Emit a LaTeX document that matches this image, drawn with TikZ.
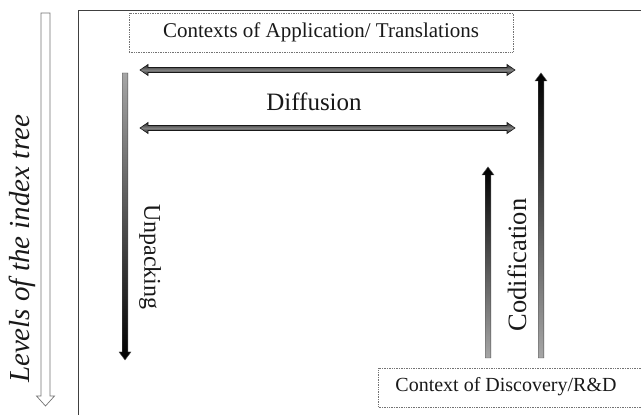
\documentclass[tikz,border=0pt]{standalone}
\usepackage{fontspec}
\setmainfont{Liberation Serif}
\usetikzlibrary{calc}
\begin{document}
\begin{tikzpicture}[x=1pt,y=1pt,
  dbox/.style={draw=black!55, densely dotted, line width=0.7pt},
  darr/.style={top color=black!85, bottom color=black!85, middle color=black!50, draw=black!90, line width=0.6pt},
  downarr/.style={top color=black!35, bottom color=black, draw=black!70, line width=0.4pt},
  uparr/.style={top color=black, bottom color=black!35, draw=black!70, line width=0.4pt},
  hollow/.style={draw=black!55, fill=white, line width=0.7pt},
  frame/.style={draw=black!75, line width=0.8pt},
  lbl/.style={text=black!90, inner sep=0pt}]
\useasboundingbox (0,0) rectangle (641,415);
% frame
\draw[frame] (641,405) -- (78,405) -- (78,0);
% boxes and labels
\node[dbox, minimum width=384, minimum height=39, lbl, font=\fontsize{21}{24}\selectfont] (ctxapp) at (321,382.5) {Contexts of Application/ Translations};
\draw[dbox] (641,47) -- (378,47) -- (378,8) -- (641,8);
\node[lbl, font=\fontsize{20}{24}\selectfont] (ctxdisc) at (506,28) {Context of Discovery/R\&D};
\node[lbl, font=\fontsize{25}{30}\selectfont] (diff) at (314,313) {Diffusion};
\node[lbl, font=\fontsize{24}{28}\selectfont, rotate=-90] (unp) at (150,158) {Unpacking};
\node[lbl, font=\fontsize{26.5}{30}\selectfont, rotate=90] (cod) at (517,150) {Codification};
\node[lbl, font=\fontsize{29}{32}\selectfont\itshape, rotate=90] (lev) at (22,166) {Levels of the index tree};
% coordinates
\coordinate (d1a) at (140,345); \coordinate (d1b) at (515,345);
\coordinate (d2a) at (140,287); \coordinate (d2b) at (515,287);
\coordinate (ut) at (125,342); \coordinate (ub) at (125,55);
\coordinate (c1b) at (541,57); \coordinate (c1t) at (541,342);
\coordinate (c2b) at (488,57); \coordinate (c2t) at (488,248);
\coordinate (lt) at (45.5,402); \coordinate (lb) at (45.5,9);
% double arrows
\foreach \a/\b in {d1a/d1b, d2a/d2b}{
\shadedraw[darr] (\a) -- ($(\a)+(8,5.5)$) -- ($(\a)+(8,2.5)$) -- ($(\b)+(-8,2.5)$) -- ($(\b)+(-8,5.5)$) -- (\b) -- ($(\b)+(-8,-5.5)$) -- ($(\b)+(-8,-2.5)$) -- ($(\a)+(8,-2.5)$) -- ($(\a)+(8,-5.5)$) -- cycle;
}
% unpacking arrow (down)
\shadedraw[downarr] ($(ut)+(-2.8,0)$) -- ($(ut)+(2.8,0)$) -- ($(ub)+(2.8,8)$) -- ($(ub)+(6,8)$) -- (ub) -- ($(ub)+(-6,8)$) -- ($(ub)+(-2.8,8)$) -- cycle;
% codification arrows (up)
\foreach \b/\t in {c1b/c1t, c2b/c2t}{
\shadedraw[uparr] ($(\b)+(-2.8,0)$) -- ($(\b)+(2.8,0)$) -- ($(\t)+(2.8,-8)$) -- ($(\t)+(6,-8)$) -- (\t) -- ($(\t)+(-6,-8)$) -- ($(\t)+(-2.8,-8)$) -- cycle;
}
% hollow levels arrow
\draw[hollow] ($(lt)+(-4.5,0)$) -- ($(lt)+(4.5,0)$) -- ($(lb)+(4.5,10)$) -- ($(lb)+(9,10)$) -- (lb) -- ($(lb)+(-9,10)$) -- ($(lb)+(-4.5,10)$) -- cycle;
\end{tikzpicture}
\end{document}
